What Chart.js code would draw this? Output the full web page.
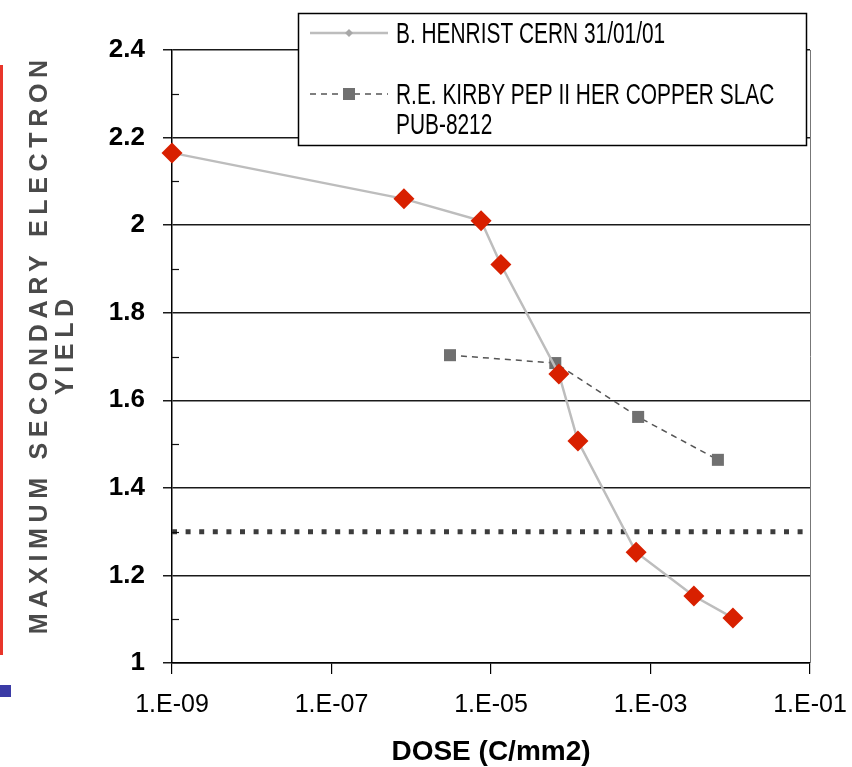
<!DOCTYPE html>
<html>
<head>
<meta charset="utf-8">
<script src="https://cdn.jsdelivr.net/npm/chart.js@4.4.0/dist/chart.umd.min.js"></script>
<style>
html, body { margin: 0; padding: 0; background: #fff; }
#wrap { position: relative; width: 852px; height: 767px; }
#redbar { position: absolute; left: 0; top: 65px; width: 3px; height: 590px; background: #e8352a; }
#bluebox { position: absolute; left: 0; top: 685px; width: 11px; height: 12px; background: #3b3ba6; }
</style>
</head>
<body>
<div id="wrap">
<canvas id="chart1" width="852" height="767"></canvas>
<div id="redbar"></div>
<div id="bluebox"></div>
</div>
<script>
const FONT = "'Liberation Sans', Arial, sans-serif";

// data
const henristDose  = [1e-9, 8.1e-7, 7.5e-6, 1.33e-5, 7.1e-5, 1.23e-4, 6.6e-4, 3.5e-3, 1.08e-2];
const henristYield = [2.165, 2.06, 2.01, 1.91, 1.66, 1.507, 1.253, 1.153, 1.103];
const kirbyDose  = [3.06e-6, 6.4e-5, 7.0e-4, 7.0e-3];
const kirbyYield = [1.703, 1.685, 1.562, 1.464];
const thresholdDose  = [1e-9, 1e-1];
const thresholdYield = [1.3, 1.3];

const xTicks = [1e-9, 1e-7, 1e-5, 1e-3, 1e-1];
const xTickLabels = ['1.E-09', '1.E-07', '1.E-05', '1.E-03', '1.E-01'];
const yTicks = [1, 1.2, 1.4, 1.6, 1.8, 2, 2.2, 2.4];
const yTickLabels = ['1', '1.2', '1.4', '1.6', '1.8', '2', '2.2', '2.4'];
const yMinorTicks = [1.1, 1.3, 1.5, 1.7, 1.9, 2.1, 2.3];

const seriesLabels = ['B. HENRIST CERN 31/01/01', 'R.E. KIRBY PEP II HER COPPER SLAC PUB-8212'];
const yTitle = ['MAXIMUM SECONDARY ELECTRON', 'YIELD'];
const xTitle = 'DOSE (C/mm2)';

const pts = (xs, ys) => xs.map((x, i) => ({x: x, y: ys[i]}));

// minor ticks on the inside of the y axis + right edge line
const axisExtras = {
    id: 'axisExtras',
    afterDraw(chart) {
        const ctx = chart.ctx;
        const y = chart.scales.y;
        const a = chart.chartArea;
        ctx.save();
        ctx.strokeStyle = '#111';
        ctx.lineWidth = 1.2;
        yMinorTicks.forEach(v => {
            const py = Math.round(y.getPixelForValue(v)) + 0.5;
            ctx.beginPath();
            ctx.moveTo(a.left, py);
            ctx.lineTo(a.left + 7, py);
            ctx.stroke();
        });
        ctx.strokeStyle = '#777';
        ctx.lineWidth = 1;
        ctx.beginPath();
        ctx.moveTo(a.right + 0.5, a.top);
        ctx.lineTo(a.right + 0.5, a.bottom);
        ctx.stroke();
        ctx.restore();
    }
};

// rotated y title with wide letter spacing
const yTitlePlugin = {
    id: 'yTitlePlugin',
    afterDraw(chart) {
        const ctx = chart.ctx;
        ctx.save();
        ctx.font = 'bold 25px ' + FONT;
        ctx.fillStyle = '#4a4a4a';
        ctx.textAlign = 'center';
        ctx.textBaseline = 'middle';
        ctx.letterSpacing = '0px';
        const w0 = ctx.measureText(yTitle[0]).width;
        const ls = (580 - w0) / yTitle[0].length;
        ctx.letterSpacing = ls + 'px';
        ctx.translate(0, 347);
        ctx.rotate(-Math.PI / 2);
        ctx.fillText(yTitle[0], ls / 2, 40);
        ctx.fillText(yTitle[1], ls / 2, 66);
        ctx.restore();
    }
};

// boxed legend sitting on the plot, condensed text
const boxLegend = {
    id: 'boxLegend',
    afterDraw(chart) {
        const ctx = chart.ctx;
        const entries = [chart.data.datasets[1], chart.data.datasets[2]];
        const sx = 0.72;
        ctx.save();
        ctx.fillStyle = '#fff';
        ctx.fillRect(298.5, 13.5, 508, 132);
        ctx.strokeStyle = '#000';
        ctx.lineWidth = 1.5;
        ctx.strokeRect(298.5, 13.5, 508, 132);
        ctx.font = '29px ' + FONT;
        ctx.textBaseline = 'middle';
        let y = 33;
        entries.forEach(ds => {
            ctx.strokeStyle = ds.borderColor;
            ctx.lineWidth = ds.borderWidth;
            ctx.setLineDash(ds.borderDash || []);
            ctx.beginPath();
            ctx.moveTo(310, y);
            ctx.lineTo(388, y);
            ctx.stroke();
            ctx.setLineDash([]);
            ctx.fillStyle = ds.pointBackgroundColor;
            const r = ds.pointRadius;
            ctx.beginPath();
            if (ds.pointStyle === 'rectRot') {
                ctx.moveTo(349, y - r); ctx.lineTo(349 + r, y);
                ctx.lineTo(349, y + r); ctx.lineTo(349 - r, y);
            } else {
                const h = r * Math.SQRT1_2;
                ctx.rect(349 - h, y - h, 2 * h, 2 * h);
            }
            ctx.closePath();
            ctx.fill();
            // word wrap
            const words = ds.label.split(' ');
            const lines = [];
            let cur = '';
            words.forEach(w => {
                const t = cur ? cur + ' ' + w : w;
                if (ctx.measureText(t).width * sx > 400 && cur) { lines.push(cur); cur = w; } else { cur = t; }
            });
            lines.push(cur);
            ctx.fillStyle = '#000';
            lines.forEach((l, i) => {
                ctx.save();
                ctx.translate(396, y + 2 + i * 30);
                ctx.scale(sx, 1);
                ctx.fillText(l, 0, 0);
                ctx.restore();
            });
            y += 61;
        });
        ctx.restore();
    }
};

new Chart(document.getElementById('chart1'), {
    type: 'line',
    data: {
        datasets: [
            {
                label: 'diamonds',
                data: pts(henristDose, henristYield),
                showLine: false,
                pointStyle: 'rectRot',
                pointRadius: 10.5,
                pointBackgroundColor: '#d82000',
                pointBorderWidth: 0,
                clip: false
            },
            {
                label: seriesLabels[0],
                data: pts(henristDose, henristYield),
                borderColor: '#bdbdbd',
                borderWidth: 2.5,
                pointStyle: 'rectRot',
                pointRadius: 4,
                pointBackgroundColor: '#a8a8a8',
                pointBorderWidth: 0,
                tension: 0,
                clip: false
            },
            {
                label: seriesLabels[1],
                data: pts(kirbyDose, kirbyYield),
                borderColor: '#555',
                borderWidth: 1.5,
                borderDash: [6, 5],
                pointStyle: 'rect',
                pointRadius: 8.5,
                pointBackgroundColor: '#707070',
                pointBorderWidth: 0,
                clip: false
            },
            {
                label: 'threshold',
                data: pts(thresholdDose, thresholdYield),
                borderColor: '#3c3c3c',
                borderWidth: 5,
                borderDash: [5, 8.6],
                borderCapStyle: 'butt',
                pointRadius: 0,
                clip: false
            }
        ]
    },
    options: {
        responsive: false,
        animation: false,
        devicePixelRatio: 1,
        layout: {
            padding: {top: 50, right: 42, left: 0, bottom: 0}
        },
        plugins: {
            legend: {display: false},
            tooltip: {enabled: false}
        },
        scales: {
            x: {
                type: 'logarithmic',
                min: 1e-9,
                max: 1e-1,
                afterBuildTicks: s => { s.ticks = xTicks.map(v => ({value: v})); },
                afterFit: s => { s.height = 104; s.paddingRight = 0; s.paddingLeft = 0; },
                ticks: {
                    autoSkip: false,
                    maxRotation: 0,
                    padding: 16,
                    color: '#000',
                    font: {family: FONT, size: 25},
                    callback: (v, i) => xTickLabels[i]
                },
                grid: {
                    drawOnChartArea: false,
                    drawTicks: true,
                    tickLength: 11,
                    color: '#000',
                    lineWidth: 1.2
                },
                border: {color: '#000', width: 1.5},
                title: {
                    display: true,
                    text: xTitle,
                    color: '#000',
                    font: {family: FONT, size: 28, weight: 'bold', lineHeight: 1},
                    padding: {top: 0, bottom: 1}
                }
            },
            y: {
                min: 1,
                max: 2.4,
                afterBuildTicks: s => { s.ticks = yTicks.map(v => ({value: v})); },
                afterFit: s => { s.width = 172; },
                ticks: {
                    padding: 18,
                    color: '#000',
                    font: {family: FONT, size: 26, weight: 'bold'},
                    callback: (v, i) => yTickLabels[i]
                },
                grid: {
                    color: '#1a1a1a',
                    lineWidth: 1.5,
                    tickLength: 9
                },
                border: {color: '#000', width: 1.5}
            }
        }
    },
    plugins: [axisExtras, boxLegend, yTitlePlugin]
});
</script>
</body>
</html>
